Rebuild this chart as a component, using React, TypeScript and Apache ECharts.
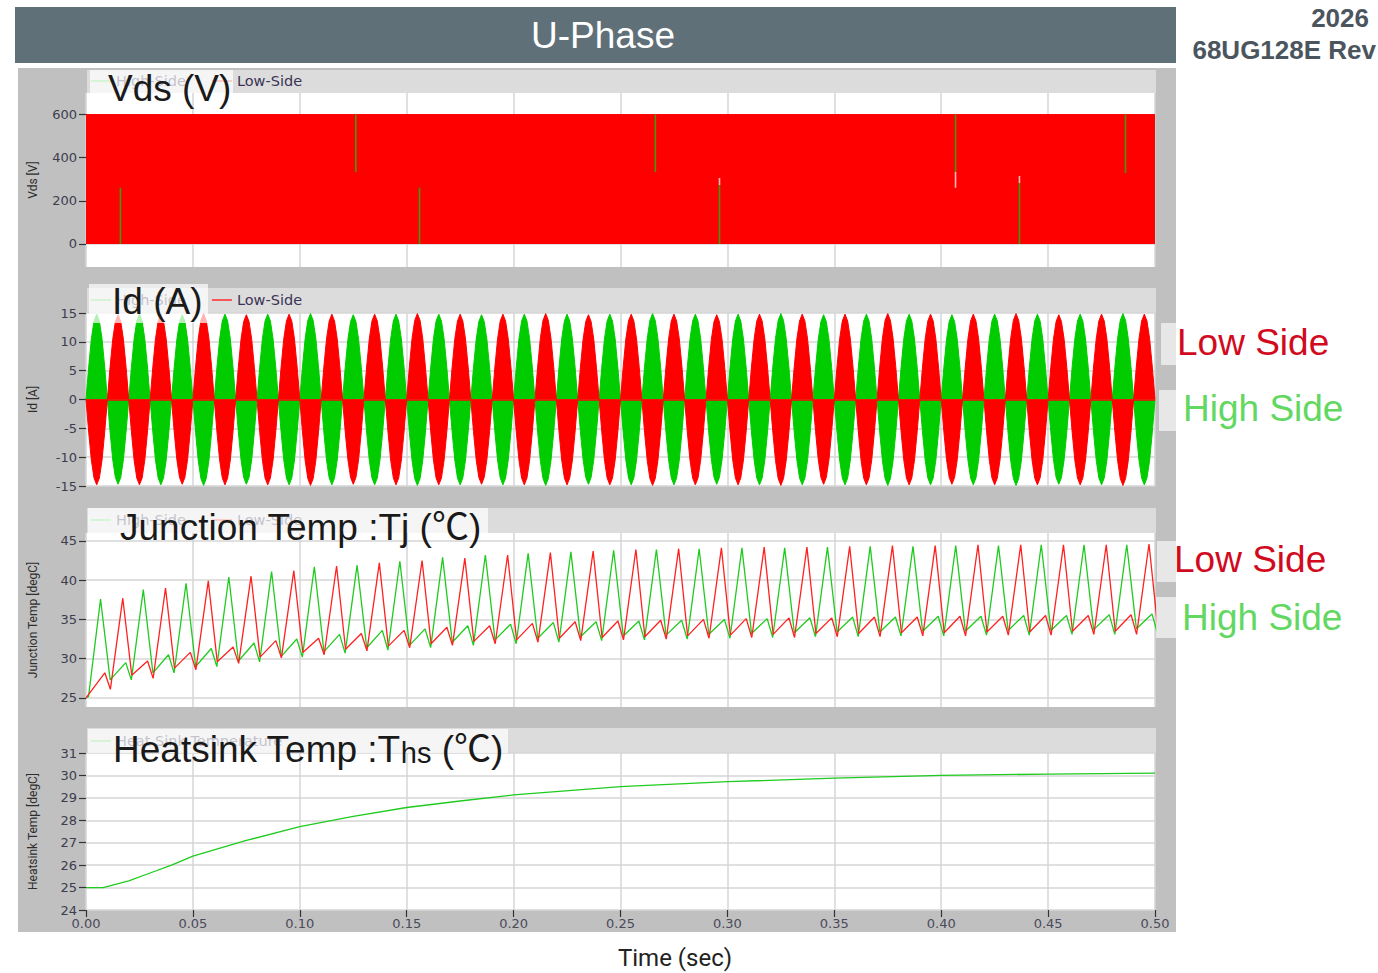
import React, { useEffect, useRef } from 'react';
import * as echarts from 'echarts';

// ---------------- data ----------------
// Vds panel: low-side switching band (dense PWM, drawn as a band 0..600 V)
const vdsLowTime = [0, 0.5];
const vdsLowValue = [600, 600];
// high-side Vds transients that show through the band
const vdsHighSpikeTime = [0.0161, 0.1262, 0.156, 0.2663, 0.2963, 0.4067, 0.4366, 0.4862];
const vdsHighSpikeFrom = [0, 600, 0, 600, 0, 600, 0, 600];
const vdsHighSpikeTo = [261, 334, 260, 334, 273, 334, 283, 329];
const vdsTipTime = [0.2963, 0.4067, 0.4366];
const vdsTipFrom = [273, 334, 283];
const vdsTipTo = [306, 260, 315];
const vdsTicks = [0, 200, 400, 600];

// Id panel: 50 Hz half-cycle lobes (magnitudes of each lobe, A)
const idHalfPeriod = 0.01;
const idLobePeaks = [
  14.8, 14.7, 14.8, 14.8, 14.7, 14.9, 14.8, 14.7, 14.8, 14.8,
  14.9, 14.8, 14.7, 14.8, 14.8, 14.9, 14.8, 14.8, 14.7, 14.8,
  14.8, 14.9, 14.8, 14.7, 14.8, 14.8, 14.9, 14.8, 14.8, 14.7,
  14.8, 14.8, 14.9, 14.8, 14.7, 14.8, 14.8, 14.9, 14.8, 14.8,
  14.7, 14.8, 14.8, 14.9, 14.8, 14.7, 14.8, 14.8, 14.9, 14.8,
];
// normalised envelope of one lobe as seen in the plot
const idLobeShape = [0, 0.38, 0.71, 0.92, 1, 0.92, 0.71, 0.38, 0];

// Junction temperature: per 20 ms cycle
const tjPeriod = 0.02;
const tjHighOffsets = [0.0068, 0.0113, 0.0186, 0.0212]; // big peak, trough, small peak, trough
const tjHighBig = [37.6, 38.8, 39.6, 40.4, 41.1, 41.7, 41.9, 42.4, 42.9, 43.2, 43.4, 43.6, 43.8, 43.9, 44.0, 44.1, 44.1, 44.2, 44.3, 44.3, 44.4, 44.4, 44.5, 44.5, 44.5];
const tjHighTroughA = [27.3, 28.2, 29.0, 29.7, 30.3, 30.9, 31.4, 31.7, 32.1, 32.4, 32.6, 32.8, 32.9, 33.0, 33.1, 33.2, 33.3, 33.4, 33.4, 33.5, 33.5, 33.6, 33.6, 33.7, 33.8];
const tjHighSmall = [29.5, 30.5, 31.3, 32.0, 32.5, 33.1, 33.6, 33.8, 34.2, 34.4, 34.6, 34.7, 34.8, 34.9, 35.0, 35.1, 35.2, 35.3, 35.3, 35.4, 35.4, 35.5, 35.5, 35.6, 35.7];
const tjHighTroughB = [27.3, 28.2, 29.0, 29.6, 30.2, 30.7, 31.1, 31.4, 31.7, 31.9, 32.1, 32.3, 32.4, 32.5, 32.6, 32.7, 32.8, 32.8, 32.9, 32.9, 33.0, 33.0, 33.1, 33.1, 33.2];

const tjLowOffsets = [0.0088, 0.0114, 0.0172, 0.0214]; // small peak, trough, big peak, trough
const tjLowSmall = [28.2, 29.7, 30.8, 31.5, 32.3, 32.6, 33.2, 33.6, 34.0, 34.2, 34.5, 34.7, 34.8, 34.9, 35.0, 35.1, 35.2, 35.2, 35.3, 35.3, 35.4, 35.4, 35.5, 35.5, 35.6];
const tjLowTroughB = [26.1, 27.5, 28.6, 29.4, 30.1, 30.5, 31.0, 31.4, 31.7, 31.9, 32.1, 32.3, 32.4, 32.5, 32.6, 32.7, 32.7, 32.8, 32.8, 32.9, 32.9, 33.0, 33.0, 33.1, 33.1];
const tjLowBig = [37.7, 39.0, 39.9, 40.5, 41.2, 41.8, 42.2, 42.5, 42.8, 43.2, 43.5, 43.7, 43.9, 44.0, 44.1, 44.2, 44.2, 44.3, 44.4, 44.4, 44.5, 44.5, 44.5, 44.5, 44.6];
const tjLowTroughA = [27.9, 28.8, 29.6, 30.2, 30.8, 31.2, 31.6, 31.9, 32.2, 32.4, 32.6, 32.7, 32.8, 32.9, 33.0, 33.1, 33.2, 33.2, 33.3, 33.3, 33.4, 33.4, 33.5, 33.5, 33.6];
const tjTicks = [25, 30, 35, 40, 45];

// Heatsink temperature
const hsTime = [0, 0.008, 0.02, 0.03, 0.04, 0.05, 0.075, 0.1, 0.125, 0.15, 0.175, 0.2, 0.25, 0.3, 0.35, 0.4, 0.45, 0.5];
const hsTemp = [25.0, 25.0, 25.3, 25.65, 26.0, 26.4, 27.1, 27.72, 28.17, 28.57, 28.86, 29.13, 29.5, 29.72, 29.88, 30.0, 30.06, 30.1];

// ---------------- build series data ----------------
const vdsLowData = vdsLowTime.map((t, i) => [t, vdsLowValue[i]]);
function segments(times: number[], from: number[], to: number[]) {
  const pts: any[] = [];
  times.forEach((t, i) => {
    pts.push([t, from[i]], [t, to[i]], [t, '-']);
  });
  return pts;
}
const vdsSpikeData = segments(vdsHighSpikeTime, vdsHighSpikeFrom, vdsHighSpikeTo);
const vdsTipData = segments(vdsTipTime, vdsTipFrom, vdsTipTo);

function buildId(sign: number) {
  const pts: number[][] = [];
  const n = idLobeShape.length - 1;
  idLobePeaks.forEach((pk, k) => {
    const s = (k % 2 === 0 ? 1 : -1) * sign;
    idLobeShape.forEach((f, j) => {
      pts.push([(k + j / n) * idHalfPeriod, s * pk * f]);
    });
  });
  return pts;
}
const idHighData = buildId(1);
const idLowData = buildId(-1);

function buildTjHigh() {
  const pts: number[][] = [[0, 25], [0.0012, 25.2]];
  tjHighBig.forEach((_, k) => {
    const b = k * tjPeriod;
    const vals = [tjHighBig[k], tjHighTroughA[k], tjHighSmall[k], tjHighTroughB[k]];
    tjHighOffsets.forEach((o, j) => pts.push([b + o, vals[j]]));
  });
  return pts;
}
function buildTjLow() {
  const pts: number[][] = [[0, 25]];
  tjLowBig.forEach((_, k) => {
    const b = k * tjPeriod;
    const vals = [tjLowSmall[k], tjLowTroughB[k], tjLowBig[k], tjLowTroughA[k]];
    tjLowOffsets.forEach((o, j) => pts.push([b + o, vals[j]]));
  });
  return pts;
}
const tjHighData = buildTjHigh();
const tjLowData = buildTjLow();
const hsData = hsTime.map((t, i) => [t, hsTemp[i]]);

// ---------------- styling ----------------
const FONT_TICK = '"DejaVu Sans", sans-serif';
const FONT_NARROW = '"Roboto", sans-serif';
const FONT_TITLE = '"Liberation Sans", Arial, "Noto Sans CJK SC", sans-serif';
const GREEN = '#00cc00';
const GREEN_LINE = '#1fcb1f';
const RED = '#ff0000';
const GRID_COLOR = '#d6d6d6';

const panels = [
  { top: 93, height: 174, strip: 70 },
  { top: 313, height: 173, strip: 288 },
  { top: 533, height: 174, strip: 508 },
  { top: 753, height: 157, strip: 728 },
];

function xAxisFor(i: number) {
  const last = i === 3;
  return {
    type: 'value', gridIndex: i, min: 0, max: 0.5, interval: 0.05,
    axisLine: { show: false },
    axisTick: { show: last, length: 7, lineStyle: { color: '#333', width: 1.2 } },
    axisLabel: {
      show: last, formatter: (v: number) => v.toFixed(2),
      fontFamily: FONT_TICK, fontSize: 13, color: '#4a4a5a', margin: 7,
    },
    splitLine: { show: true, lineStyle: { color: GRID_COLOR, width: 1.5 } },
  };
}

function yAxisFor(i: number, name: string, extra: any) {
  const base: any = {
    type: 'value', gridIndex: i, name, nameLocation: 'middle', nameGap: 47, nameRotate: 90,
    nameTextStyle: { fontFamily: FONT_NARROW, fontSize: 12, color: '#2e2e2e' },
    axisLine: { show: false },
    axisTick: { show: true, length: 7, lineStyle: { color: '#333', width: 1.2 } },
    axisLabel: { fontFamily: FONT_TICK, fontSize: 13, color: '#3d3d4d', margin: 9 },
    splitLine: { show: true, lineStyle: { color: GRID_COLOR, width: 1.5 } },
  };
  const out = { ...base, ...extra };
  if (extra.customValues) {
    out.axisTick = { ...base.axisTick, customValues: extra.customValues };
    out.axisLabel = { ...base.axisLabel, customValues: extra.customValues };
    delete out.customValues;
  }
  return out;
}

const legendBase: any = {
  orient: 'horizontal', left: 91, padding: 0, itemWidth: 20, itemHeight: 1.5, itemGap: 26,
  icon: 'rect', selectedMode: false,
  textStyle: { fontFamily: FONT_TICK, fontSize: 14.5, color: '#3b3456', lineHeight: 16 },
};

function txt(text: string, x: number, y: number, size: number, fill: string, align = 'left', weight = 'normal', family = FONT_TITLE) {
  return {
    type: 'text', z: 100,
    style: {
      text, x, y, fill, fontSize: size, fontFamily: family, fontWeight: weight,
      align, textAlign: align, verticalAlign: 'middle', textVerticalAlign: 'middle',
    },
  };
}
function rect(x: number, y: number, w: number, h: number, fill: string, z: number) {
  return { type: 'rect', z, shape: { x, y, width: w, height: h }, style: { fill } };
}

const OVERLAY = 'rgba(255,255,255,0.7)';
const SIDEBOX = 'rgba(255,255,255,0.62)';
const LOW_TXT = '#d20a1e';
const HIGH_TXT = '#62d862';

const graphicElements: any[] = [
  rect(15, 7, 1161, 56, '#607079', -10),
  rect(18, 68, 1158, 864, '#c0c0c0', -10),
  ...panels.map((p) => rect(87, p.strip, 1069, p.top - p.strip, '#dcdcdc', -9)),
  txt('U-Phase', 603, 35, 37, '#ffffff', 'center'),
  txt('2026', 1369, 18, 26, '#4b555e', 'right', 'bold'),
  txt('68UG128E Rev', 1376, 50, 26, '#4b555e', 'right', 'bold'),
  // overlay title boxes
  rect(90, 70, 143, 23, OVERLAY, 90),
  rect(89, 284, 119, 39, OVERLAY, 90),
  rect(88, 508, 400, 25, OVERLAY, 90),
  rect(88, 729, 420, 24, OVERLAY, 90),
  txt('Vds (V)', 108, 88, 37, '#1a1a1a'),
  txt('Id (A)', 112, 301, 37, '#1a1a1a'),
  txt('Junction Temp :Tj (℃)', 120, 527, 37, '#1a1a1a'),
  {
    type: 'text', z: 100,
    style: {
      text: '{a|Heatsink Temp :T}{b|hs}{a| (℃)}', x: 113, y: 749,
      verticalAlign: 'middle', textVerticalAlign: 'middle',
      rich: {
        a: { fontSize: 37, fontFamily: FONT_TITLE, fill: '#1a1a1a', color: '#1a1a1a' },
        b: { fontSize: 29, fontFamily: FONT_TITLE, fill: '#1a1a1a', color: '#1a1a1a', verticalAlign: 'bottom' },
      },
    },
  },
  // side labels
  rect(1161, 323, 175, 42, SIDEBOX, 90),
  rect(1159, 390, 185, 41, SIDEBOX, 90),
  rect(1157, 541, 175, 41, SIDEBOX, 90),
  rect(1156, 597, 188, 41, SIDEBOX, 90),
  txt('Low Side', 1177, 342, 37, LOW_TXT),
  txt('High Side', 1183, 408, 37, HIGH_TXT),
  txt('Low Side', 1174, 559, 37, LOW_TXT),
  txt('High Side', 1182, 617, 37, HIGH_TXT),
  txt('Time (sec)', 675, 958, 24, '#222222', 'center', 'normal', FONT_NARROW),
];

const legendPair = [
  { name: 'High-Side', itemStyle: { color: '#55d855' } },
  { name: 'Low-Side', itemStyle: { color: '#ff2a2a' } },
];

const option: any = {
  animation: false,
  backgroundColor: 'transparent',
  grid: panels.map((p) => ({
    left: 86, width: 1069, top: p.top, height: p.height,
    show: true, backgroundColor: '#ffffff', borderWidth: 0,
  })),
  xAxis: [0, 1, 2, 3].map(xAxisFor),
  yAxis: [
    yAxisFor(0, 'Vds [V]', { min: -107, max: 700, customValues: vdsTicks }),
    yAxisFor(1, 'Id [A]', { min: -15, max: 15, interval: 5 }),
    yAxisFor(2, 'Junction Temp [degC]', { min: 23.85, max: 46, customValues: tjTicks }),
    yAxisFor(3, 'Heatsink Temp [degC]', { min: 24, max: 31, interval: 1 }),
  ],
  legend: [
    { ...legendBase, top: 73, data: legendPair },
    { ...legendBase, top: 292, data: legendPair },
    { ...legendBase, top: 512, data: legendPair },
    { ...legendBase, top: 733, data: [{ name: 'Heat Sink Temperature', itemStyle: { color: '#55d855' } }] },
  ],
  graphic: { elements: graphicElements },
  series: [
    {
      name: 'Low-Side', type: 'line', xAxisIndex: 0, yAxisIndex: 0, data: vdsLowData,
      symbol: 'none', silent: true, lineStyle: { color: RED, width: 1 }, itemStyle: { color: RED },
      areaStyle: { color: RED, opacity: 1 },
    },
    {
      name: 'High-Side', type: 'line', xAxisIndex: 0, yAxisIndex: 0, data: vdsSpikeData,
      symbol: 'none', silent: true, connectNulls: false, z: 5,
      lineStyle: { color: '#3f9b0b', width: 1.6 }, itemStyle: { color: '#3f9b0b' },
    },
    {
      name: 'Vds transient', type: 'line', xAxisIndex: 0, yAxisIndex: 0, data: vdsTipData,
      symbol: 'none', silent: true, connectNulls: false, z: 5,
      lineStyle: { color: '#ffb8b8', width: 1.6 }, itemStyle: { color: '#ffb8b8' },
    },
    {
      name: 'High-Side', type: 'line', xAxisIndex: 1, yAxisIndex: 1, data: idHighData,
      symbol: 'none', silent: true, lineStyle: { color: GREEN, width: 1 }, itemStyle: { color: GREEN },
      areaStyle: { color: GREEN, opacity: 1 },
    },
    {
      name: 'Low-Side', type: 'line', xAxisIndex: 1, yAxisIndex: 1, data: idLowData,
      symbol: 'none', silent: true, lineStyle: { color: RED, width: 1 }, itemStyle: { color: RED },
      areaStyle: { color: RED, opacity: 1 },
      markLine: {
        silent: true, symbol: 'none', label: { show: false },
        lineStyle: { color: RED, width: 1.5, type: 'solid' }, data: [{ yAxis: 0 }],
      },
    },
    {
      name: 'High-Side', type: 'line', xAxisIndex: 2, yAxisIndex: 2, data: tjHighData,
      symbol: 'none', silent: true, lineStyle: { color: GREEN_LINE, width: 1.3 }, itemStyle: { color: GREEN_LINE },
    },
    {
      name: 'Low-Side', type: 'line', xAxisIndex: 2, yAxisIndex: 2, data: tjLowData,
      symbol: 'none', silent: true, lineStyle: { color: '#ff2020', width: 1.3 }, itemStyle: { color: '#ff2020' },
    },
    {
      name: 'Heat Sink Temperature', type: 'line', xAxisIndex: 3, yAxisIndex: 3, data: hsData,
      symbol: 'none', silent: true, lineStyle: { color: GREEN_LINE, width: 1.3 }, itemStyle: { color: GREEN_LINE },
    },
  ],
};

export default function App() {
  const ref = useRef<HTMLDivElement>(null);
  useEffect(() => {
    if (!ref.current) return;
    const chart = echarts.init(ref.current, null, { renderer: 'svg' });
    chart.setOption(option);
    return () => chart.dispose();
  }, []);
  return <div ref={ref} style={{ position: 'absolute', left: 0, top: 0, width: 1378, height: 973 }} />;
}
